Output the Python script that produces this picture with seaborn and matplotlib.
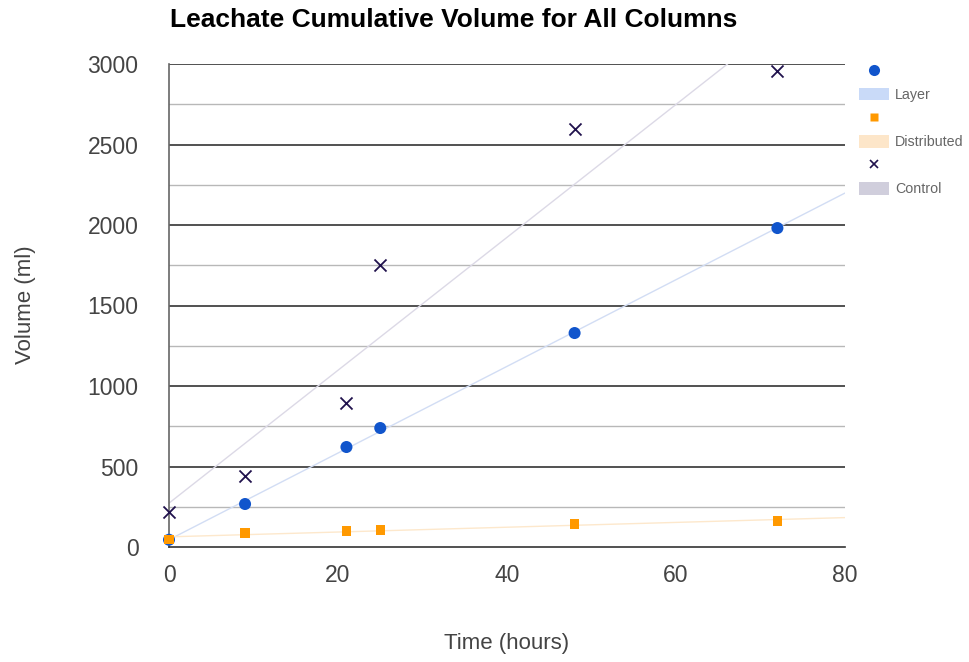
import numpy as np
import pandas as pd
import matplotlib
matplotlib.use("Agg")
import matplotlib.pyplot as plt
from matplotlib.lines import Line2D
from matplotlib.patches import Patch
import seaborn as sns

# Data
time_hours = [0, 9, 21, 25, 48, 72]
layer = [45, 267, 621, 739, 1329, 1981]
distributed = [45, 87, 99, 105, 143, 161]
control = [217, 441, 894, 1752, 2596, 2957]
series_names = ["Layer", "Distributed", "Control"]
x_ticks = [0, 20, 40, 60, 80]
y_ticks = [0, 500, 1000, 1500, 2000, 2500, 3000]

sns.set_theme(style="white")
plt.rcParams['font.family'] = ['Liberation Sans', 'DejaVu Sans']

fig = plt.figure(figsize=(9.69, 6.62), dpi=100)
ax = fig.add_axes([169/969, 1-547/662, (845-169)/969, (547-64)/662])
ax.set_xlim(0, 80)
ax.set_ylim(0, 3000)

df = pd.DataFrame({"time": time_hours, "Layer": layer,
                   "Distributed": distributed, "Control": control})

marker_colors = {"Layer": "#1155cc", "Distributed": "#ff9900", "Control": "#20124d"}
line_colors = {"Layer": "#d2ddf4", "Distributed": "#fde8cc", "Control": "#dcd9e6"}
patch_colors = {"Layer": "#c9daf8", "Distributed": "#fde6c9", "Control": "#d0cedc"}
markers = {"Layer": "o", "Distributed": "s", "Control": "x"}
sizes = {"Layer": 75, "Distributed": 45, "Control": 75}

# grid lines
for v in np.arange(250, 3001, 250):
    major = (v % 500 == 0)
    ax.axhline(v, color="#333333" if major else "#b8b8b8", lw=1.2 if major else 1.0, zorder=0)

for name in series_names:
    sns.regplot(data=df, x="time", y=name, ax=ax, scatter=False, ci=None, truncate=False,
                line_kws=dict(color=line_colors[name], lw=1.0, zorder=1))

for name in ["Layer", "Distributed", "Control"]:
    kw = dict(linewidth=1.3) if name == "Control" else dict(edgecolor="none")
    sns.scatterplot(data=df, x="time", y=name, ax=ax, marker=markers[name],
                    color=marker_colors[name], s=sizes[name], zorder=3, clip_on=False, **kw)

ax.set_xlim(0, 80)
ax.set_ylim(0, 3000)
ax.set_xticks(x_ticks)
ax.set_yticks(y_ticks)
ax.tick_params(axis="both", length=0, labelsize=16.5, labelcolor="#444444")
ax.tick_params(axis="x", pad=12)
ax.tick_params(axis="y", pad=22)

for s in ["top", "right"]:
    ax.spines[s].set_visible(False)
ax.spines["left"].set_color("#666666")
ax.spines["left"].set_linewidth(1.2)
ax.spines["bottom"].set_color("#333333")
ax.spines["bottom"].set_linewidth(1.2)

ax.set_xlabel("")
ax.set_ylabel("")
fig.text(507/969, 1-643/662, "Time (hours)", ha="center", va="center", fontsize=16, color="#444444")
fig.text(25/969, 1-305/662, "Volume (ml)", ha="center", va="center", rotation=90, fontsize=16, color="#444444")
fig.text(170/969, 1-20/662, "Leachate Cumulative Volume for All Columns", ha="left", va="center",
         fontsize=19, fontweight="bold", color="#000000")

handles, labels = [], []
for name in series_names:
    if name == "Control":
        handles.append(Line2D([], [], ls="none", marker="x", color=marker_colors[name], ms=5.5, mew=1.2))
    else:
        handles.append(Line2D([], [], ls="none", marker=markers[name], color=marker_colors[name],
                              ms=8 if name == "Layer" else 6, mec="none"))
    labels.append("")
    handles.append(Patch(facecolor=patch_colors[name], edgecolor="none"))
    labels.append(name)

leg = fig.legend(handles, labels, loc="upper left", bbox_to_anchor=(859/969, 1-64/662),
                 frameon=False, fontsize=10.3, labelspacing=0.65, handlelength=2.1,
                 handleheight=1.0, handletextpad=0.4, borderpad=0, borderaxespad=0)
for t in leg.get_texts():
    t.set_color("#666666")

fig.savefig("out.png", dpi=100)
